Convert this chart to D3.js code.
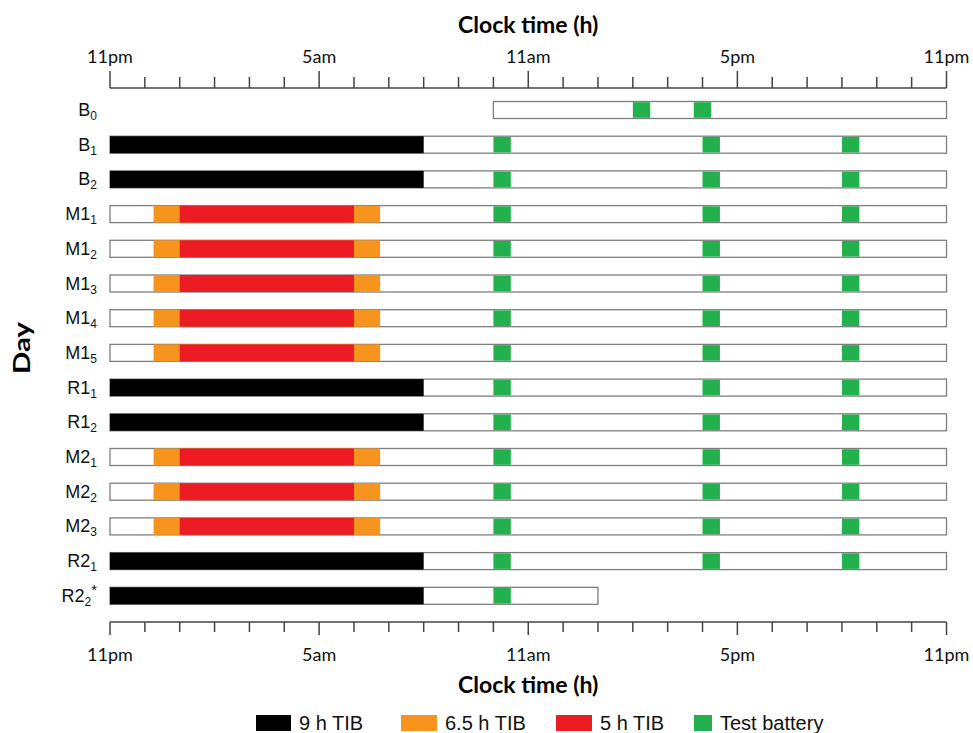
<!DOCTYPE html>
<html>
<head>
<meta charset="utf-8">
<script src="https://cdn.jsdelivr.net/npm/d3@7"></script>
<style>
  html, body { margin: 0; padding: 0; background: #fff; }
  svg { display: block; }
</style>
</head>
<body>
<svg id="chart" width="973" height="733"></svg>
<script>
// Study days, top to bottom: label stem, subscript, suffix
const dayStem   = ["B", "B", "B", "M1", "M1", "M1", "M1", "M1", "R1", "R1", "M2", "M2", "M2", "R2", "R2"];
const daySub    = ["0", "1", "2", "1", "2", "3", "4", "5", "1", "2", "1", "2", "3", "1", "2"];
const daySuffix = ["", "", "", "", "", "", "", "", "", "", "", "", "", "", "*"];

// Hours after 11pm at which each day's record opens and closes
const dayStart = [11, 0, 0, 0, 0, 0, 0, 0, 0, 0, 0, 0, 0, 0, 0];
const dayEnd   = [24, 24, 24, 24, 24, 24, 24, 24, 24, 24, 24, 24, 24, 24, 14];

// Time-in-bed condition per day
const condition = ["none", "9h", "9h", "5h", "5h", "5h", "5h", "5h", "9h", "9h", "5h", "5h", "5h", "9h", "9h"];
const tib9   = [0, 9];       // 11pm – 8am
const tib65  = [1.25, 7.75]; // 12:15am – 6:45am
const tib5   = [2, 7];       // 1am – 6am

// Test battery sessions (start, hours after 11pm), each half an hour long
const testStarts = [
  [15, 16.75],
  [11, 17, 21], [11, 17, 21],
  [11, 17, 21], [11, 17, 21], [11, 17, 21], [11, 17, 21], [11, 17, 21],
  [11, 17, 21], [11, 17, 21],
  [11, 17, 21], [11, 17, 21], [11, 17, 21],
  [11, 17, 21],
  [11]
];
const testLength = 0.5;

// Axis ticks: every hour, labelled every six
const tickHours  = d3.range(0, 25, 1);
const labelHours = [0, 6, 12, 18, 24];
const labelText  = ["11pm", "5am", "11am", "5pm", "11pm"];

// Legend
const legendLabels = ["9 h TIB", "6.5 h TIB", "5 h TIB", "Test battery"];
const legendColors = ["#000000", "#F7941D", "#ED1C24", "#22B14C"];

const COLORS = { tib9: "#000000", tib65: "#F7941D", tib5: "#ED1C24", test: "#22B14C", outline: "#7f7f7f" };

const svg = d3.select("#chart");
const rows = d3.range(dayStem.length);

const x = d3.scaleLinear().domain([0, 24]).range([110, 946.5]);
const y = d3.scalePoint().domain(rows).range([110, 595.8]);
const barH = 17;

const tickFont = "Lato, 'Open Sans', sans-serif";
const labelFont = "'Liberation Sans', Arial, sans-serif";

// ---- axes -------------------------------------------------------------
function drawAxis(yPos, dir, majorLen, minorLen, labelY) {
  const g = svg.append("g");
  g.append("line")
    .attr("x1", x(0)).attr("x2", x(24))
    .attr("y1", yPos).attr("y2", yPos)
    .attr("stroke", "#444").attr("stroke-width", 1.5);
  g.selectAll("line.tick").data(tickHours).join("line")
    .attr("class", "tick")
    .attr("x1", d => x(d)).attr("x2", d => x(d))
    .attr("y1", yPos)
    .attr("y2", d => yPos + dir * (d % 6 === 0 ? majorLen : minorLen))
    .attr("stroke", "#444").attr("stroke-width", 1.5);
  g.selectAll("text").data(labelHours).join("text")
    .attr("x", d => x(d))
    .attr("y", labelY)
    .attr("text-anchor", "middle")
    .attr("font-family", tickFont)
    .attr("font-size", 18)
    .attr("fill", "#111")
    .text((d, i) => labelText[i]);
}
drawAxis(88, -1, 17, 11, 63);
drawAxis(622, 1, 13, 10, 660.5);

// Axis titles
[33, 693].forEach(ty => {
  svg.append("text")
    .attr("x", x(12)).attr("y", ty)
    .attr("text-anchor", "middle")
    .attr("font-family", tickFont).attr("font-weight", "bold").attr("font-size", 23)
    .attr("fill", "#000")
    .text("Clock time (h)");
});
svg.append("text")
  .attr("transform", `translate(30,348) rotate(-90)`)
  .attr("text-anchor", "middle")
  .attr("font-family", tickFont).attr("font-weight", "bold").attr("font-size", 23)
  .attr("textLength", 52).attr("lengthAdjust", "spacingAndGlyphs")
  .attr("fill", "#000")
  .text("Day");

// ---- day labels -------------------------------------------------------
const labels = svg.append("g").selectAll("text").data(rows).join("text")
  .attr("x", 97)
  .attr("y", d => y(d) + 6)
  .attr("text-anchor", "end")
  .attr("font-family", labelFont)
  .attr("font-size", 18)
  .attr("fill", "#111");
labels.append("tspan").text(d => dayStem[d]);
labels.append("tspan").attr("font-size", 12).attr("dy", 4).text(d => daySub[d]);
labels.filter(d => daySuffix[d] !== "").append("tspan")
  .attr("font-size", 15).attr("dy", -11).text(d => daySuffix[d]);

// ---- day bars ---------------------------------------------------------
const bars = svg.append("g");
bars.selectAll("rect.day").data(rows).join("rect")
  .attr("class", "day")
  .attr("x", d => x(dayStart[d]))
  .attr("y", d => y(d) - barH / 2)
  .attr("width", d => x(dayEnd[d]) - x(dayStart[d]))
  .attr("height", barH)
  .attr("fill", "#fff")
  .attr("stroke", COLORS.outline)
  .attr("stroke-width", 1.3);

// Time-in-bed segments
const segs = [];
rows.forEach(d => {
  if (condition[d] === "9h") segs.push({ d, s: tib9[0], e: tib9[1], c: COLORS.tib9 });
  if (condition[d] === "5h") {
    segs.push({ d, s: tib65[0], e: tib65[1], c: COLORS.tib65 });
    segs.push({ d, s: tib5[0], e: tib5[1], c: COLORS.tib5 });
  }
});
bars.selectAll("rect.tib").data(segs).join("rect")
  .attr("class", "tib")
  .attr("x", s => x(s.s))
  .attr("y", s => y(s.d) - barH / 2)
  .attr("width", s => x(s.e) - x(s.s))
  .attr("height", barH)
  .attr("fill", s => s.c);

// Test battery sessions
const tests = [];
rows.forEach(d => testStarts[d].forEach(t => tests.push({ d, t })));
bars.selectAll("rect.test").data(tests).join("rect")
  .attr("class", "test")
  .attr("x", s => x(s.t))
  .attr("y", s => y(s.d) - barH / 2 + 0.7)
  .attr("width", x(testLength) - x(0))
  .attr("height", barH - 1.4)
  .attr("fill", COLORS.test);

// ---- legend -----------------------------------------------------------
const legendX = [256, 401, 556, 694];
const legendW = [35, 36, 36, 18];
const lg = svg.append("g");
lg.selectAll("rect").data(legendLabels).join("rect")
  .attr("x", (d, i) => legendX[i])
  .attr("y", 715)
  .attr("width", (d, i) => legendW[i])
  .attr("height", 16)
  .attr("fill", (d, i) => legendColors[i]);
lg.selectAll("text").data(legendLabels).join("text")
  .attr("x", (d, i) => legendX[i] + legendW[i] + 8)
  .attr("y", 730)
  .attr("font-family", labelFont)
  .attr("font-size", 20)
  .attr("fill", "#111")
  .text(d => d);
</script>
</body>
</html>
